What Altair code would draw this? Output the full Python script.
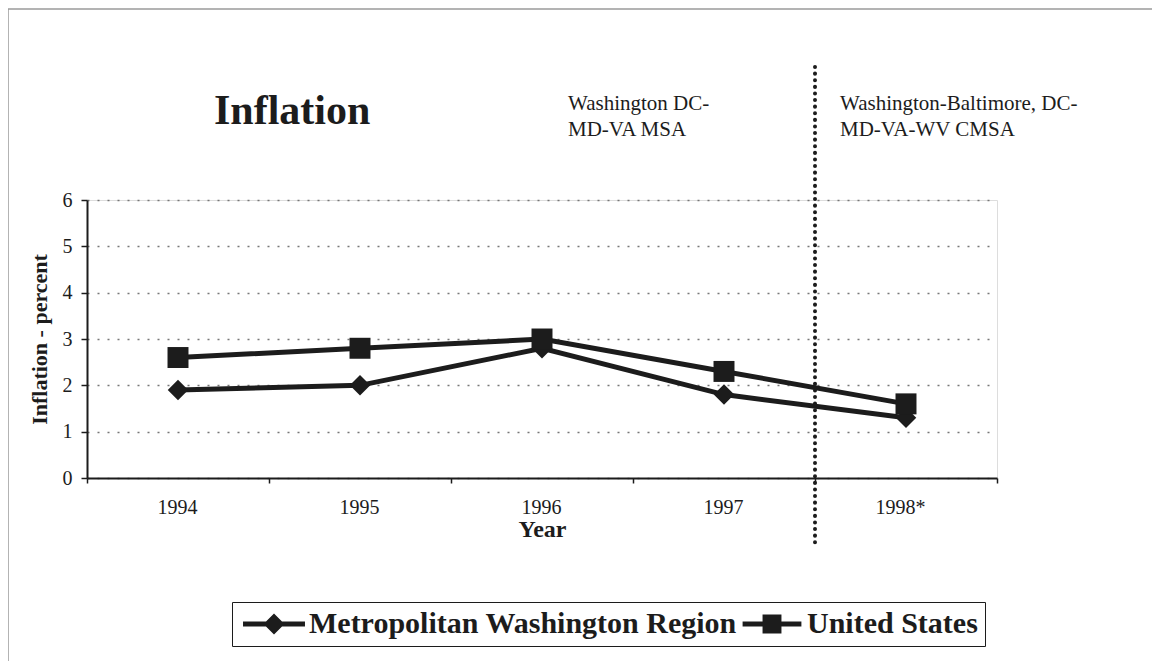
import altair as alt
import pandas as pd

years = ["1994", "1995", "1996", "1997", "1998*"]
series_names = ["Metropolitan Washington Region", "United States"]
metro = [1.9, 2.0, 2.8, 1.8, 1.3]
us = [2.6, 2.8, 3.0, 2.3, 1.6]
boundary_year = ["1998*"]
chart_title = ["Inflation"]
region_notes = ["Washington DC-\nMD-VA MSA", "Washington-Baltimore, DC-\nMD-VA-WV CMSA"]
y_ticks = [0, 1, 2, 3, 4, 5, 6]

rows = []
for name, vals in zip(series_names, [metro, us]):
    for yr, v in zip(years, vals):
        rows.append({"year": yr, "series": name, "value": v})
df = pd.DataFrame(rows)

W, H = 910, 278
INK = "#1c1c1c"
SERIF = "Liberation Serif"

xs = alt.Scale(type="band", domain=years, paddingInner=0, paddingOuter=0)
ys = alt.Scale(domain=[0, 6], nice=False)

x_axis = alt.Axis(title="Year", titleFont=SERIF, titleFontSize=24, titleFontWeight="bold",
                  titleColor=INK, titleY=51, titleBaseline="middle",
                  labelFont=SERIF, labelFontSize=20, labelColor=INK, labelAngle=0,
                  labelPadding=24, labelOffset=19, tickSize=5, tickBand="extent", tickColor=INK,
                  tickWidth=1.5, domainColor=INK, domainWidth=2, grid=False)
y_axis = alt.Axis(title="Inflation - percent", titleFont=SERIF, titleFontSize=22,
                  titleFontWeight="bold", titleColor=INK, titleX=-48, titleY=H / 2,
                  titleAngle=270, titleAlign="center", titleBaseline="middle",
                  labelFont=SERIF, labelFontSize=20, labelColor=INK, labelPadding=9,
                  values=y_ticks, tickSize=6, tickColor=INK, tickWidth=1.5,
                  domainColor=INK, domainWidth=2,
                  grid=True, gridColor="#777777", gridDash=[2, 8], gridWidth=1.5)

base = alt.Chart(df)

lines = base.mark_line(color=INK, strokeWidth=5).encode(
    x=alt.X("year:N", scale=xs, axis=x_axis, sort=years),
    y=alt.Y("value:Q", scale=ys, axis=y_axis),
    detail="series:N",
)

points = base.mark_point(filled=True, opacity=1, color=INK).encode(
    x=alt.X("year:N", scale=xs, sort=years),
    y=alt.Y("value:Q", scale=ys),
    shape=alt.Shape("series:N", scale=alt.Scale(domain=series_names, range=["diamond", "square"]),
                    legend=None),
    size=alt.Size("series:N", scale=alt.Scale(domain=series_names, range=[420, 440]), legend=None),
)

diamond_sym = "M-2.95,-0.24H2.95V0.24H-2.95Z M0,-1L1,0L0,1L-1,0Z"
square_sym = "M-2.8,-0.24H2.8V0.24H-2.8Z M-0.9,-0.9H0.9V0.9H-0.9Z"

legend_layer = base.mark_point(filled=True, opacity=0, size=0, color=INK).encode(
    x=alt.X("year:N", scale=xs, sort=years),
    y=alt.Y("value:Q", scale=ys),
    shape=alt.Shape("series:N", scale=alt.Scale(domain=series_names, range=[diamond_sym, square_sym]),
                    legend=alt.Legend(title=None, orient="none", direction="horizontal",
                                      legendX=145, legendY=402, padding=7,
                                      strokeColor=INK, fillColor="white",
                                      symbolSize=441, symbolOpacity=1,
                                      symbolFillColor=INK, symbolStrokeColor=INK,
                                      symbolStrokeWidth=0, symbolOffset=20,
                                      labelOffset=20, columnPadding=0,
                                      labelFont=SERIF, labelFontSize=30, labelFontWeight="bold",
                                      labelColor=INK, labelLimit=600)),
)

rule = alt.Chart(pd.DataFrame({"year": boundary_year})).mark_rule(
    color=INK, strokeWidth=4, strokeDash=[0.1, 6.5], strokeCap="round"
).encode(
    x=alt.X("year:N", scale=xs, sort=years, bandPosition=0),
    y=alt.value(-133), y2=alt.value(345),
)

title = alt.Chart(pd.DataFrame({"t": chart_title})).mark_text(
    font=SERIF, fontSize=42, fontWeight="bold", color=INK, align="left", baseline="alphabetic"
).encode(text="t:N", x=alt.value(127), y=alt.value(-76))

note1 = alt.Chart(pd.DataFrame({"t": [region_notes[0]]})).mark_text(
    font=SERIF, fontSize=21, color=INK, align="left", baseline="alphabetic",
    lineBreak="\n", lineHeight=26
).encode(text="t:N", x=alt.value(481), y=alt.value(-90))

note2 = alt.Chart(pd.DataFrame({"t": [region_notes[1]]})).mark_text(
    font=SERIF, fontSize=21, color=INK, align="left", baseline="alphabetic",
    lineBreak="\n", lineHeight=26
).encode(text="t:N", x=alt.value(753), y=alt.value(-90))

frame = alt.Chart(pd.DataFrame({"k": [0]})).mark_rect(
    fill=None, stroke="#9a9a9a", strokeWidth=1.5
).encode(x=alt.value(-79), x2=alt.value(1071), y=alt.value(-191), y2=alt.value(463))

chart = alt.layer(frame, rule, lines, points, legend_layer, title, note1, note2).resolve_scale(
    shape="independent", size="independent"
).properties(
    width=W, height=H,
    autosize=alt.AutoSizeParams(type="none"),
    padding={"left": 79, "top": 192, "right": 155, "bottom": 183},
).configure_view(stroke=INK, strokeWidth=2).configure(background="white")

chart.save("out.html", embed_options={"renderer": "svg", "actions": False})
